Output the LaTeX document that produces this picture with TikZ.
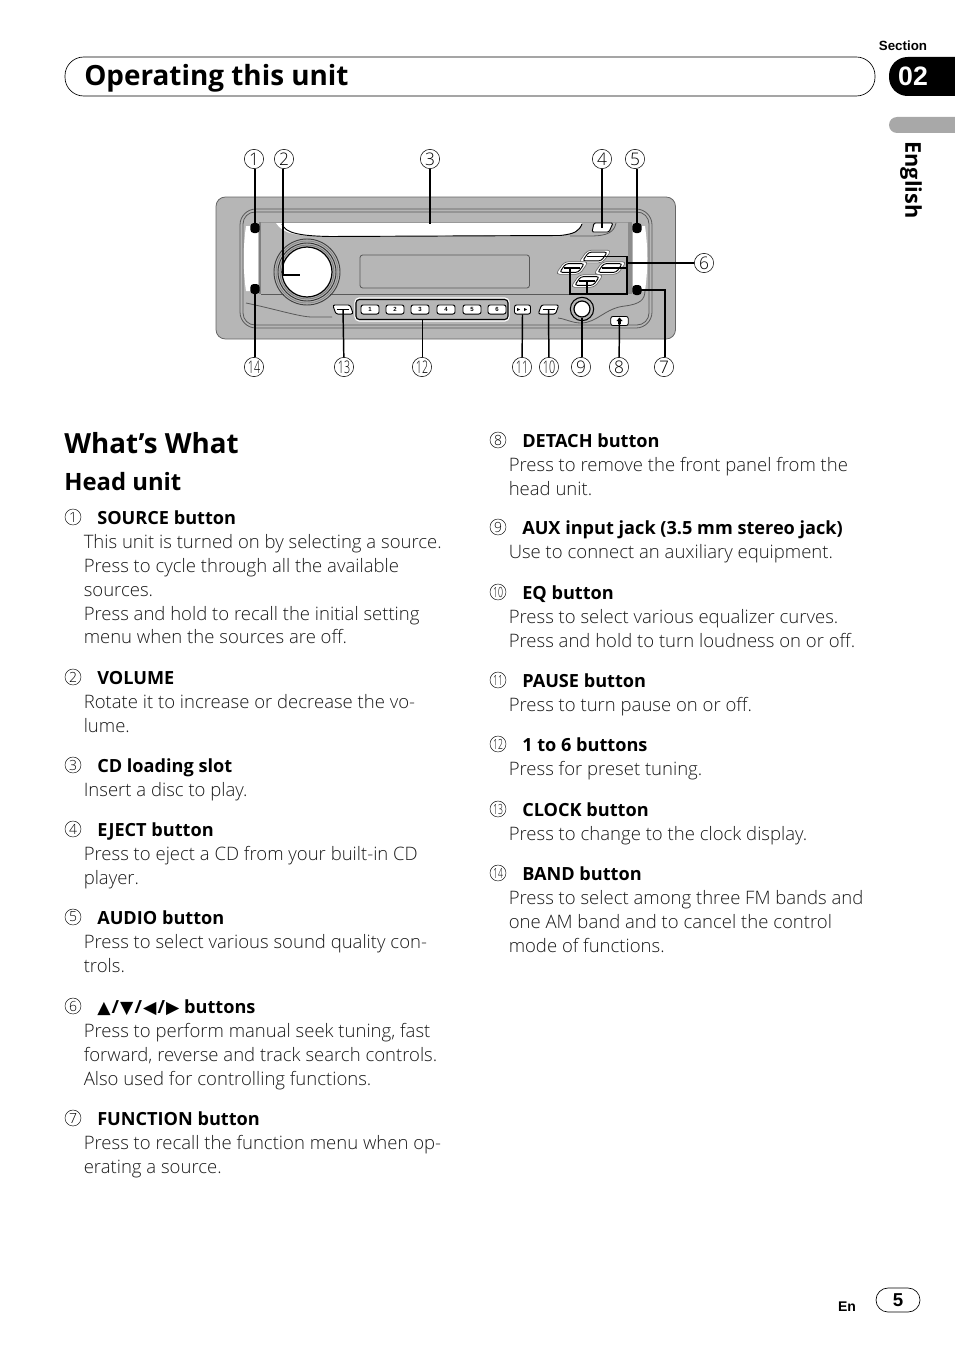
\documentclass[tikz,border=0pt]{standalone}
\usepackage{fontspec}
\setmainfont{Open Sans}
\newfontfamily\lightf{Open Sans Light}
\newfontfamily\djsans{DejaVu Sans}
\newfontfamily\libs{Liberation Sans}
\definecolor{panel}{HTML}{B6B6B6}
\definecolor{tabgray}{HTML}{A8A8A8}
\definecolor{ink}{HTML}{1A1A1A}
\tikzset{
  bodytext/.style={anchor=north west,inner sep=0pt,align=left,text=ink,font=\lightf\fontsize{13.9pt}{17.8pt}\selectfont},
  itemhead/.style={anchor=base west,inner sep=0pt,text=black,font=\bfseries\fontsize{13.6pt}{16pt}\selectfont},
  listn/.style={circle,draw=black,line width=.35pt,minimum size=12pt,inner sep=0pt,text=black,font=\lightf\fontsize{10.5pt}{10.5pt}\selectfont},
  calln/.style={circle,draw=black,line width=.4pt,minimum size=14.5pt,inner sep=0pt,text=black,font=\lightf\fontsize{13pt}{13pt}\selectfont},
  conn/.style={draw=black,line width=1.1pt},
  keybtn/.style={draw=black,fill=white,line width=.7pt,rounded corners=1.6pt,minimum width=13.5pt,minimum height=6.8pt,inner sep=0pt,font=\libs\bfseries\fontsize{4.5pt}{5pt}\selectfont},
  padbtn/.style={draw=black,fill=white,line width=.7pt,rounded corners=2pt,minimum width=14pt,minimum height=6.5pt,inner sep=0pt,xslant=.7,transform shape},
  dark/.style={draw=black,line width=.7pt},
  soft/.style={draw=black!65,line width=.6pt}
}
\newcommand\narrow[1]{\scalebox{.62}[1]{#1}}
\newcommand\tri[1]{{\djsans\fontsize{13pt}{14pt}\selectfont #1}}
\newcommand\slashmark{\hspace{.8pt}/\hspace{.8pt}}
\newcommand\entrybox[6]{%
  \node[listn] (n#1) at (#3,#4) {#2};
  \node[itemhead] (h#1) at (#3+24,#4+7) {#5};
  \node[bodytext] (b#1) at (#3+10.5,#4+15) {\strut #6};
}
\begin{document}
\begin{tikzpicture}[x=.75pt,y=-.75pt]
\useasboundingbox (0,0) rectangle (954,1352);
% header
\node[draw=black,line width=.5pt,rounded corners=14pt,minimum width=607.5pt,minimum height=29.25pt,inner sep=0pt] (hdr) at (470,76.5) {};
\node[anchor=base west,inner sep=0pt,font=\bfseries\fontsize{20.9pt}{24pt}\selectfont] (title) at (84,85.5) {Operating this unit};
\node[inner sep=0pt,font=\libs\bfseries\fontsize{10pt}{11pt}\selectfont] (sect) at (903,46) {Section};
\fill[black,rounded corners=14pt] (889,57) -- (889,96) -- (975,96) -- (975,57) -- cycle;
\node[inner sep=0pt,text=white,font=\libs\bfseries\fontsize{20pt}{24pt}\selectfont] (secno) at (913,76) {02};
\fill[tabgray,rounded corners=6pt] (889,117) -- (889,133) -- (975,133) -- (975,117) -- cycle;
\node[rotate=-90,inner sep=0pt,font=\bfseries\fontsize{16.3pt}{18pt}\selectfont] (lang) at (911,180) {English};
% device body
\draw[fill=panel,draw=black!60,line width=.6pt,rounded corners=7pt] (216,197) rectangle (675.5,339);
\draw[soft,rounded corners=12pt] (240,209) rectangle (652,328);
\draw[soft,rounded corners=9pt] (243,212) rectangle (649,325);
% slot
\fill[white] (276,223) -- (582,223) .. controls (579,231) and (575,234) .. (560,235) -- (330,236.5) .. controls (295,236) and (283,234) .. (276,223) -- cycle;
\draw[dark] (282,224) .. controls (285,233) and (300,236) .. (330,236.5) -- (560,235.5) .. controls (575,234) and (579,231) .. (582,224);
\draw[draw=black!40,line width=.5pt] (260,222) -- (628,222);
% eject
\draw[dark,fill=white,rounded corners=1pt] (594,223) -- (613,223) -- (609,232) -- (592,232) -- cycle;
\draw[soft] (616,223) .. controls (614,232) and (608,236) .. (590,236) -- (570,236);
% side strips
\fill[white] (246,226) -- (258,226) -- (258,291) -- (246,291) .. controls (243,270) and (243,247) .. (246,226) -- cycle;
\fill[white] (633,226) -- (645,226) .. controls (648,247) and (648,270) .. (645,291) -- (633,291) -- cycle;
\fill[black!50] (258.5,222) rectangle (261,294);
\fill[black!45] (628,222) rectangle (632,294);
\draw[soft] (261,294) -- (284,294);
\draw[soft] (330,294) -- (628,294);
\node[fill=black,rounded corners=2.5pt,minimum width=7pt,minimum height=7.5pt,inner sep=0pt] (s1) at (255,228) {};
\node[fill=black,rounded corners=2.5pt,minimum width=7pt,minimum height=7.5pt,inner sep=0pt] (s14) at (255,289) {};
\node[fill=black,rounded corners=2.5pt,minimum width=7pt,minimum height=7.5pt,inner sep=0pt] (s5) at (637,228) {};
\node[fill=black,rounded corners=2.5pt,minimum width=7pt,minimum height=7.5pt,inner sep=0pt] (s7) at (637,290) {};
% face lines
\draw[soft] (246,303) .. controls (275,309) and (300,317) .. (312,317) -- (332,317);
\draw[soft] (558,318) .. controls (566,319) and (572,323) .. (581,323) .. controls (597,323) and (605,308) .. (625,306) .. controls (640,304) and (645,300) .. (645,290);
% knob
\foreach \r/\c in {33/black!75,31/black!45,29/black!80,27/black!50}{\draw[draw=\c,line width=.7pt] (307,272) circle[radius=\r*.75pt];}
\node[circle,draw=black,fill=white,line width=.9pt,minimum size=37.5pt,inner sep=0pt] (knob) at (307,272) {};
% display
\draw[soft,rounded corners=2pt] (360,255) rectangle (529.5,288);
% preset group
\draw[draw=white,line width=.8pt,rounded corners=3pt] (355,298) rectangle (509,321);
\draw[draw=black,line width=.8pt,rounded corners=2.5pt] (356,299.5) rectangle (508,319.5);
\node[keybtn] (k1) at (370,309.5) {1};
\node[keybtn] (k2) at (395,309.5) {2};
\node[keybtn] (k3) at (420,309.5) {3};
\node[keybtn] (k4) at (446,309.5) {4};
\node[keybtn] (k5) at (472,309.5) {5};
\node[keybtn] (k6) at (497,309.5) {6};
\node[keybtn,minimum width=12pt] (b11) at (522.5,309.5) {};
\node[keybtn,minimum width=13pt,xslant=.35,transform shape] (b10) at (548.5,309.5) {};
\node[keybtn,minimum width=13pt,xslant=-.35,transform shape] (b13) at (343,309.5) {};
\draw[line width=.9pt] (b10.center) +(-6,0) -- +(6,0);
\draw[line width=.9pt] (b13.center) +(-6,0) -- +(6,0);
\fill[black] (517,308) -- (520,309.5) -- (517,311) -- cycle;
\fill[black] (524,308) -- (527,309.5) -- (524,311) -- cycle;
% aux jack
\node[circle,draw=black,fill=panel,line width=.8pt,minimum size=17.5pt,inner sep=0pt] (aux0) at (582,309) {};
\node[circle,draw=black,fill=white,line width=.9pt,minimum size=12pt,inner sep=0pt] (aux) at (582,309) {};
% detach
\node[draw=black,fill=white,line width=.6pt,rounded corners=1.5pt,minimum width=13pt,minimum height=6.8pt,inner sep=0pt] (det) at (619.5,321) {};
\fill[black] (619.5,317.5) -- (622.5,321) -- (620.8,321) -- (620.8,324) -- (618.2,324) -- (618.2,321) -- (616.5,321) -- cycle;
% pad
\foreach \nm/\px/\py in {pu/595/256.5,pl/572/268,pr/610/268,pd/587/281}{
  \node[draw=black!60,line width=.5pt,fill=white,rounded corners=3pt,minimum width=18pt,minimum height=9.5pt,inner sep=0pt,xslant=.7,transform shape] at (\px,\py) {};
  \node[padbtn] (\nm) at (\px,\py) {};
  \draw[line width=1pt] (\nm.center) +(-8,0) -- +(8,0);
}
% free connector ends
\coordinate (t1) at (255,224);
\coordinate (t2) at (283,275);
\coordinate (t2b) at (300,275);
\coordinate (t3) at (430,224);
\coordinate (t4) at (602,228);
\coordinate (t6) at (627,263);
\coordinate (t6a) at (627,257);
\coordinate (t6b) at (627,268);
\coordinate (t6c) at (627,294);
\coordinate (t6d) at (570,294);
\coordinate (t6e) at (586,294);
\coordinate (t7) at (665,290);
\coordinate (t12) at (422.5,320);
% callouts
\node[calln] (c1) at (254,159) {1};
\node[calln] (c2) at (284,159) {2};
\node[calln] (c3) at (430,159) {3};
\node[calln] (c4) at (602,159) {4};
\node[calln] (c5) at (635,159) {5};
\node[calln] (c6) at (704,263) {6};
\node[calln] (c7) at (664,367) {7};
\node[calln] (c8) at (619,367) {8};
\node[calln] (c9) at (581,367) {9};
\node[calln] (c10) at (549,367) {\narrow{10}};
\node[calln] (c11) at (522,367) {\narrow{11}};
\node[calln] (c12) at (422,367) {\narrow{12}};
\node[calln] (c13) at (344,367) {\narrow{13}};
\node[calln] (c14) at (254,367) {\narrow{14}};
% connectors
\draw[conn] (c1.south -| s1) -- (s1.center);
\draw[conn] (c2.south -| t2) -- (t2) -- (t2b);
\draw[conn] (c3) -- (t3);
\draw[conn] (c4) -- (t4);
\draw[conn] (c5.south -| s5) -- (s5.center);
\draw[conn] (c6) -- (t6);
\draw[conn] (pu.center) -- (pu.center -| t6a) -- (t6c) -- (t6d) -- (pl.center -| t6d);
\draw[conn] (pr.center) -- (t6b);
\draw[conn] (pd.center) -- (pd.center |- t6e);
\draw[conn] (c7.north -| t7) -- (t7) -- (s7.center);
\draw[conn] (c8) -- (det.center);
\draw[conn] (c9.north -| aux) -- (aux.south);
\draw[conn] (c10) -- (b10.center);
\draw[conn] (c11) -- (b11.south);
\draw[conn] (c12.north -| t12) -- (t12);
\draw[conn] (c13) -- (b13.center);
\draw[conn] (c14.north -| s14) -- (s14.center);
% headings
\node[anchor=base west,inner sep=0pt,font=\bfseries\fontsize{20.8pt}{24pt}\selectfont] (ww) at (64,453) {What’s What};
\node[anchor=base west,inner sep=0pt,font=\bfseries\fontsize{17.9pt}{20pt}\selectfont] (hu) at (64,490) {Head unit};
% left column
\entrybox{1}{1}{73}{517}{SOURCE button}{This unit is turned on by selecting a source.\\Press to cycle through all the available\\sources.\\Press and hold to recall the initial setting\\menu when the sources are off.}
\entrybox{2}{2}{73}{677}{VOLUME}{Rotate it to increase or decrease the vo-\\lume.}
\entrybox{3}{3}{73}{765}{CD loading slot}{Insert a disc to play.}
\entrybox{4}{4}{73}{829}{EJECT button}{Press to eject a CD from your built-in CD\\player.}
\entrybox{5}{5}{73}{917}{AUDIO button}{Press to select various sound quality con-\\trols.}
\entrybox{6}{6}{73}{1006}{\tri{▲}\slashmark\tri{▼}\slashmark\tri{◀}\slashmark\tri{▶} buttons}{Press to perform manual seek tuning, fast\\forward, reverse and track search controls.\\Also used for controlling functions.}
\entrybox{7}{7}{73}{1118}{FUNCTION button}{Press to recall the function menu when op-\\erating a source.}
% right column
\entrybox{8}{8}{498}{440}{DETACH button}{Press to remove the front panel from the\\head unit.}
\entrybox{9}{9}{498}{527}{AUX input jack (3.5 mm stereo jack)}{Use to connect an auxiliary equipment.}
\entrybox{10}{\narrow{10}}{498}{592}{EQ button}{Press to select various equalizer curves.\\Press and hold to turn loudness on or off.}
\entrybox{11}{\narrow{11}}{498}{680}{PAUSE button}{Press to turn pause on or off.}
\entrybox{12}{\narrow{12}}{498}{744}{1 to 6 buttons}{Press for preset tuning.}
\entrybox{13}{\narrow{13}}{498}{809}{CLOCK button}{Press to change to the clock display.}
\entrybox{14}{\narrow{14}}{498}{873}{BAND button}{Press to select among three FM bands and\\one AM band and to cancel the control\\mode of functions.}
% footer
\node[inner sep=0pt,font=\libs\bfseries\fontsize{10.5pt}{12pt}\selectfont] (en) at (847,1307) {En};
\node[draw=black,line width=.5pt,rounded corners=9pt,minimum width=33pt,minimum height=18pt,inner sep=0pt,font=\libs\bfseries\fontsize{14pt}{16pt}\selectfont] (pg) at (898,1300) {5};
\end{tikzpicture}
\end{document}
